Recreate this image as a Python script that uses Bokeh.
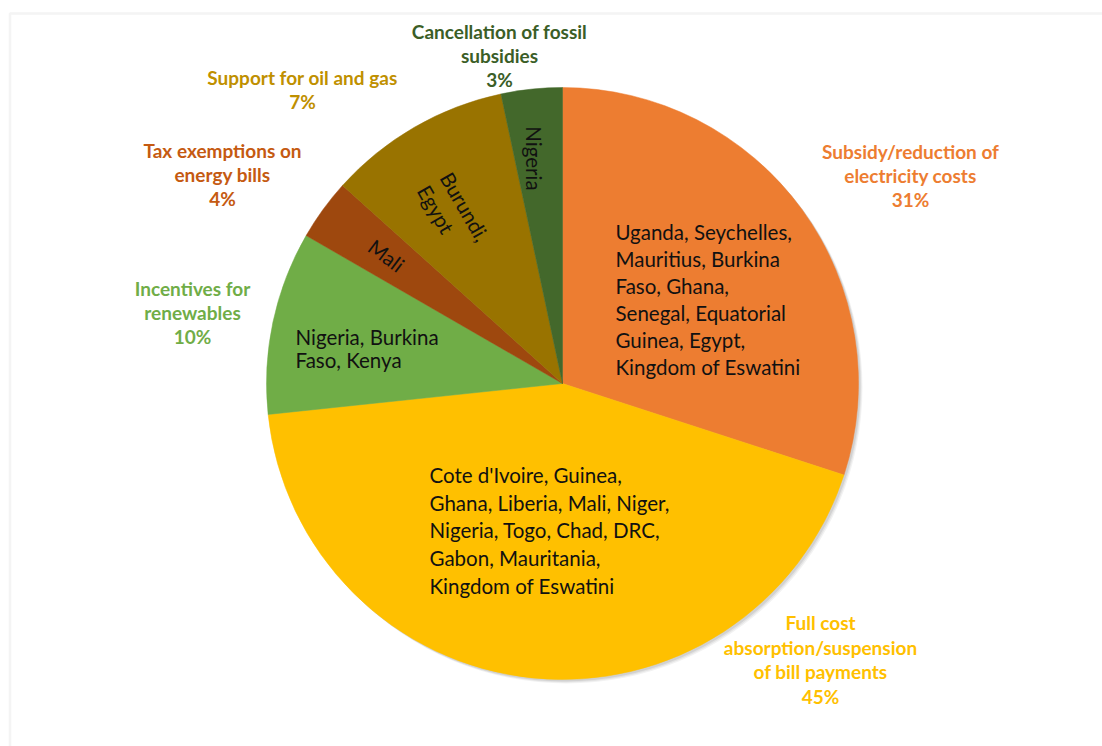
import numpy as np
from bokeh.plotting import figure
from bokeh.models import Range1d, BoxAnnotation, ColumnDataSource
from bokeh.core.properties import value
from bokeh.embed import file_html
from bokeh.resources import INLINE

# ---------------- data ----------------
categories = [
    "Subsidy/reduction of\nelectricity costs",
    "Full cost\nabsorption/suspension\nof bill payments",
    "Incentives for\nrenewables",
    "Tax exemptions on\nenergy bills",
    "Support for oil and gas",
    "Cancellation of fossil\nsubsidies",
]
counts = [9, 13, 3, 1, 3, 1]
pct_labels = ["31%", "45%", "10%", "4%", "7%", "3%"]
countries = [
    "Uganda, Seychelles,\nMauritius, Burkina\nFaso, Ghana,\nSenegal, Equatorial\nGuinea, Egypt,\nKingdom of Eswatini",
    "Cote d'Ivoire, Guinea,\nGhana, Liberia, Mali, Niger,\nNigeria, Togo, Chad, DRC,\nGabon, Mauritania,\nKingdom of Eswatini",
    "Nigeria, Burkina\nFaso, Kenya",
    "Mali",
    "Burundi,\nEgypt",
    "Nigeria",
]

# ---------------- style / layout ----------------
slice_colors = ["#ED7D31", "#FFC000", "#70AD47", "#9E480E", "#997300", "#43682B"]
label_colors = ["#ED7D31", "#FFC000", "#70AD47", "#C55A11", "#BF9000", "#3B5E27"]
W, H = 1102, 746
CX, CY, R = 562, H - 383, 296
FONT = "Lato"

# outside label block centres (screen px)
out_x = [910, 820, 192, 222, 302, 499]
out_y = [175, 659, 312, 174, 89, 55]
# inside label anchors
in_x = [615, 429, 295, 386, 434, 533]
in_y = [299, 530, 348, 255, 180, 158]
in_align = ["left", "left", "left", "center", "left", "center"]
in_angle = [0, 0, 0, -37, -60, -90]
in_lh = [1.13, 1.15, 0.98, 1.0, 1.1, 1.0]

p = figure(width=W, height=H, x_range=Range1d(0, W), y_range=Range1d(0, H),
           output_backend="svg", toolbar_location=None, min_border=0,
           background_fill_color="white", border_fill_color="white")
p.axis.visible = False
p.grid.visible = False
p.outline_line_color = None

# frame
p.add_layout(BoxAnnotation(left=9.5, right=W + 50, top=H - 13, bottom=-50,
                           fill_alpha=0, line_color="#D9D9D9", line_width=2.5))

# soft shadow
for off, a in [(4, 0.05), (3, 0.06), (2, 0.08)]:
    p.circle(x=CX + off, y=CY - off, radius=R, fill_color="#000000", fill_alpha=a, line_color=None)

total = float(sum(counts))
cum = np.cumsum([0] + counts)
start = [np.pi / 2 - 2 * np.pi * cum[i] / total for i in range(len(counts))]
end = [np.pi / 2 - 2 * np.pi * cum[i + 1] / total for i in range(len(counts))]
src = ColumnDataSource(dict(start=start, end=end, color=slice_colors))
p.wedge(x=CX, y=CY, radius=R, start_angle="start", end_angle="end", direction="clock",
        fill_color="color", line_color="color", line_width=0.5, source=src)

# outside labels
for i in range(len(counts)):
    p.text(x=[out_x[i]], y=[H - out_y[i]], text=[categories[i] + "\n" + pct_labels[i]],
           text_align="center", text_baseline="middle", text_font=value(FONT),
           text_font_style="bold", text_font_size="19px", text_line_height=1.06,
           text_color=label_colors[i])

# inside labels
for i in range(len(counts)):
    p.text(x=[in_x[i]], y=[H - in_y[i]], text=[countries[i]],
           text_align=in_align[i], text_baseline="middle", text_font=value(FONT),
           text_font_size="20.5px", text_line_height=in_lh[i], text_color="#111111",
           angle=np.deg2rad(in_angle[i]))

open("out.html", "w").write(file_html(p, INLINE))
